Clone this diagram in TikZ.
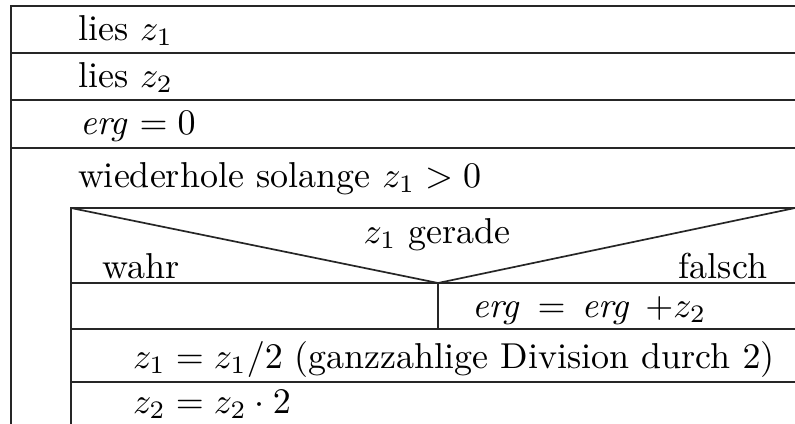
\documentclass[tikz,border=0pt]{standalone}
\begin{document}
\begin{tikzpicture}[x=0.5pt,y=-0.5pt,
  ln/.style={draw=black!85,line width=0.85pt},
  lbl/.style={inner sep=0pt,outer sep=0pt,font=\fontsize{10pt}{12pt}\selectfont,scale=1.8,transform shape}]
\useasboundingbox (0,0) rectangle (795,423);
\begin{scope}
\clip (0,0) rectangle (795,423);
% outer frame
\draw[ln] (11,430) -- (11,6) -- (805,6);
\draw[ln] (11,53) -- (805,53);
\draw[ln] (11,100) -- (805,100);
\draw[ln] (11,148) -- (805,148);
% inner loop body
\draw[ln] (71,430) -- (71,208) -- (805,208);
\draw[ln] (71,208) -- (438,283) -- (795,208);
\draw[ln] (71,283) -- (805,283);
\draw[ln] (438,283) -- (438,329);
\draw[ln] (71,329) -- (805,329);
\draw[ln] (71,382) -- (805,382);
\end{scope}
\node[lbl,anchor=base west] (r1) at (78,40) {lies $z_1$};
\node[lbl,anchor=base west] (r2) at (78,87) {lies $z_2$};
\node[lbl,anchor=base west] (r3) at (80,134) {$\mathit{erg}=0$};
\node[lbl,anchor=base west] (loop) at (78,187) {wiederhole solange $z_1>0$};
\node[lbl,anchor=base] (cond) at (437,243) {$z_1$ gerade};
\node[lbl,anchor=base west] (wahr) at (102,278) {wahr};
\node[lbl,anchor=base east] (falsch) at (767,278) {falsch};
\node[lbl,anchor=base west] (ergp) at (472,317) {$\mathit{erg}\mskip3mu=\mskip3mu\mathit{erg}\mskip7mu{+}z_2$};
\node[lbl,anchor=base west] (div) at (133,368) {$z_1=z_1/2$ (ganzzahlige Division durch $2$)};
\node[lbl,anchor=base west] (mul) at (133,413) {$z_2=z_2\cdot 2$};
\end{tikzpicture}
\end{document}
